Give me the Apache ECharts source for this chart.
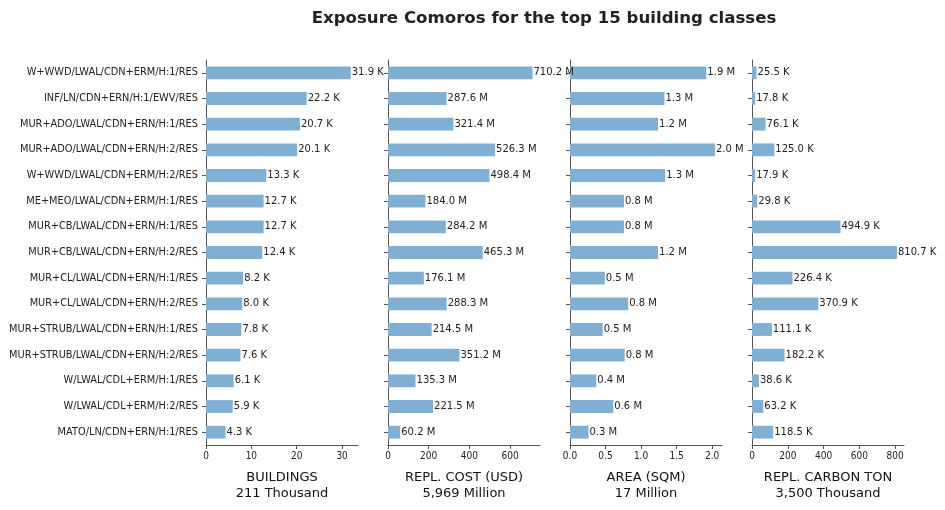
<!DOCTYPE html>
<html>
<head>
<meta charset="utf-8">
<script src="https://cdn.jsdelivr.net/npm/echarts@6/dist/echarts.min.js"></script>
<style>
  html, body { margin: 0; padding: 0; background: #fff; }
  #chart { width: 945px; height: 510px; }
</style>
</head>
<body>
<div id="chart"></div>
<script>
var categories = [
  'W+WWD/LWAL/CDN+ERM/H:1/RES',
  'INF/LN/CDN+ERN/H:1/EWV/RES',
  'MUR+ADO/LWAL/CDN+ERN/H:1/RES',
  'MUR+ADO/LWAL/CDN+ERN/H:2/RES',
  'W+WWD/LWAL/CDN+ERM/H:2/RES',
  'ME+MEO/LWAL/CDN+ERM/H:1/RES',
  'MUR+CB/LWAL/CDN+ERN/H:1/RES',
  'MUR+CB/LWAL/CDN+ERN/H:2/RES',
  'MUR+CL/LWAL/CDN+ERN/H:1/RES',
  'MUR+CL/LWAL/CDN+ERN/H:2/RES',
  'MUR+STRUB/LWAL/CDN+ERN/H:1/RES',
  'MUR+STRUB/LWAL/CDN+ERN/H:2/RES',
  'W/LWAL/CDL+ERM/H:1/RES',
  'W/LWAL/CDL+ERM/H:2/RES',
  'MATO/LN/CDN+ERN/H:1/RES'
];
// buildings, thousands
var buildings = [31.9, 22.2, 20.7, 20.1, 13.3, 12.7, 12.7, 12.4, 8.2, 8.0, 7.8, 7.6, 6.1, 5.9, 4.3];
// replacement cost, million USD
var replCost = [710.2, 287.6, 321.4, 526.3, 498.4, 184.0, 284.2, 465.3, 176.1, 288.3, 214.5, 351.2, 135.3, 221.5, 60.2];
// area, million sqm
var area = [1.92, 1.33, 1.24, 2.04, 1.34, 0.76, 0.76, 1.24, 0.49, 0.82, 0.46, 0.77, 0.37, 0.61, 0.26];
// replacement carbon, thousand tons
var carbon = [25.5, 17.8, 76.1, 125.0, 17.9, 29.8, 494.9, 810.7, 226.4, 370.9, 111.1, 182.2, 38.6, 63.2, 118.5];

var axisNames = ['BUILDINGS\n211 Thousand', 'REPL. COST (USD)\n5,969 Million', 'AREA (SQM)\n17 Million', 'REPL. CARBON TON\n3,500 Thousand'];
var ticks1 = [0, 10, 20, 30];
var ticks2 = [0, 200, 400, 600];
var ticks3 = [0, 0.5, 1.0, 1.5, 2.0];
var ticks4 = [0, 200, 400, 600, 800];

var panels = [
  { data: buildings, max: 33.5, ticks: ticks1, unit: ' K' },
  { data: replCost, max: 747, ticks: ticks2, unit: ' M' },
  { data: area, max: 2.14, ticks: ticks3, unit: ' M' },
  { data: carbon, max: 850, ticks: ticks4, unit: ' K' }
];
var lefts = [206, 388, 570, 752];

var font = 'DejaVu Sans';
var grids = [], xAxes = [], yAxes = [], series = [];
panels.forEach(function (p, i) {
  grids.push({ left: lefts[i], top: 60, width: 152, height: 385 });
  xAxes.push({
    type: 'value', gridIndex: i, min: 0, max: p.max,
    name: axisNames[i], nameLocation: 'middle', nameGap: 25,
    nameTextStyle: { fontFamily: font, fontSize: 13, color: '#111', lineHeight: 16 },
    axisLine: { show: true, lineStyle: { color: '#555' } },
    axisTick: { show: true, length: 4, customValues: p.ticks, lineStyle: { color: '#555' } },
    axisLabel: {
      customValues: p.ticks, fontFamily: 'DejaVu Sans Condensed', fontSize: 10, color: '#222', margin: 6,
      formatter: function (v) { return i === 2 ? v.toFixed(1) : String(v); }
    },
    splitLine: { show: false }
  });
  yAxes.push({
    type: 'category', gridIndex: i, data: categories, inverse: true,
    axisLine: { show: true, lineStyle: { color: '#555' } },
    axisTick: { show: true, alignWithLabel: true, length: 4, lineStyle: { color: '#555' } },
    axisLabel: { show: i === 0, fontFamily: font, fontSize: 9.8, color: '#222', margin: 8 }
  });
  series.push({
    type: 'bar', xAxisIndex: i, yAxisIndex: i, data: p.data, barWidth: '50%',
    itemStyle: { color: '#7fb0d4', borderWidth: 0 },
    label: {
      show: true, position: 'right', distance: 1,
      fontFamily: font, fontSize: 10, color: '#222',
      formatter: function (d) { return d.value.toFixed(1) + p.unit; }
    },
    silent: true
  });
});

var option = {
  animation: false,
  title: {
    text: 'Exposure Comoros for the top 15 building classes',
    left: 539, top: 5, textAlign: 'center',
    textStyle: { fontFamily: font, fontSize: 16.6, fontWeight: 'bold', color: '#222' }
  },
  grid: grids,
  xAxis: xAxes,
  yAxis: yAxes,
  series: series
};

var myChart = echarts.init(document.getElementById('chart'));
myChart.setOption(option);
</script>
</body>
</html>
